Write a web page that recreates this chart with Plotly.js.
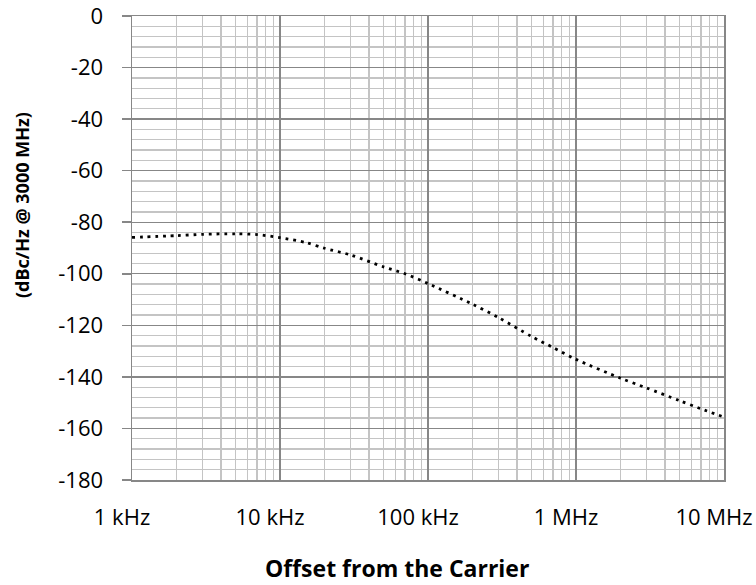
<!DOCTYPE html>
<html>
<head>
<meta charset="utf-8">
<script src="https://cdn.plot.ly/plotly-3.0.1.min.js"></script>
<style>html,body{margin:0;padding:0;background:#fff;}#chart{width:756px;height:585px;}</style>
</head>
<body>
<div id="chart"></div>
<script>
// Offset frequency (Hz)
const offsetHz = [1e3, 2e3, 3e3, 5e3, 7e3, 1e4, 1.5e4, 2e4, 3e4, 5e4, 7e4, 1e5, 2e5, 3e5, 5e5, 7e5, 1e6, 2e6, 3e6, 5e6, 7e6, 1e7];
// Phase noise (dBc/Hz @ 3000 MHz)
const phaseNoise = [-85.9, -85.2, -84.7, -84.5, -84.8, -86.0, -87.9, -90.1, -92.7, -97.3, -100.0, -103.8, -111.8, -117.0, -124.3, -128.6, -133.2, -140.5, -144.3, -149.2, -152.4, -155.6];
const xTickVals = [1e3, 1e4, 1e5, 1e6, 1e7];
const xTickText = ["1 kHz", "10 kHz", "100 kHz", "1 MHz", "10 MHz"];
const yTickVals = [0, -20, -40, -60, -80, -100, -120, -140, -160, -180];
const yTickText = ["0", "-20", "-40", "-60", "-80", "-100", "-120", "-140", "-160", "-180"];

const major = '#878787';
const minor = '#c4c4c4';
const font = 'Open Sans, Noto Sans, sans-serif';

const trace = {
  x: offsetHz, y: phaseNoise, type: 'scatter', mode: 'lines',
  line: {color: '#000', width: 2.8, dash: '2.8px,4.9px', shape: 'spline', smoothing: 0.8},
  hoverinfo: 'skip'
};

const layout = {
  width: 756, height: 585,
  margin: {l: 132, r: 32, t: 16, b: 105},
  paper_bgcolor: '#fff', plot_bgcolor: '#fff',
  showlegend: false,
  font: {family: font, color: '#000', size: 22},
  xaxis: {
    type: 'log', range: [3, 7],
    tickmode: 'array', tickvals: xTickVals, ticktext: xTickText,
    showgrid: true, gridcolor: major, gridwidth: 1.3,
    minor: {tickmode: 'linear', dtick: 'D1', showgrid: true, gridcolor: minor, gridwidth: 1.3, ticks: ''},
    showline: true, linecolor: major, linewidth: 1.5, mirror: true,
    ticks: '', zeroline: false,
    ticklabelstandoff: 17, ticklabelshift: -10, ticklabeloverflow: 'allow',
    tickfont: {family: font, size: 22, color: '#000'}
  },
  yaxis: {
    range: [-180, 0],
    tickmode: 'array', tickvals: yTickVals, ticktext: yTickText,
    showgrid: true, gridcolor: major, gridwidth: 1.3,
    minor: {tickmode: 'linear', dtick: 4, tick0: 0, showgrid: true, gridcolor: minor, gridwidth: 1.3, ticks: ''},
    showline: true, linecolor: major, linewidth: 1.5, mirror: true,
    ticks: 'outside', ticklen: 9, tickcolor: major, tickwidth: 1.5,
    zeroline: false,
    ticklabelstandoff: 14, ticklabeloverflow: 'allow',
    tickfont: {family: font, size: 22, color: '#000'}
  },
  annotations: [
    {text: '<b>Offset from the Carrier</b>', xref: 'paper', yref: 'paper', x: 0.4476, y: -0.19,
     xanchor: 'center', yanchor: 'middle', showarrow: false, font: {family: font, size: 23, color: '#000'}},
    {text: '<b>(dBc/Hz @ 3000 MHz)</b>', xref: 'paper', yref: 'paper', x: -0.1858, y: 0.5927,
     xanchor: 'center', yanchor: 'middle', textangle: -90, showarrow: false, font: {family: font, size: 18, color: '#000'}}
  ]
};

Plotly.newPlot('chart', [trace], layout, {staticPlot: true, displayModeBar: false});
</script>
</body>
</html>
